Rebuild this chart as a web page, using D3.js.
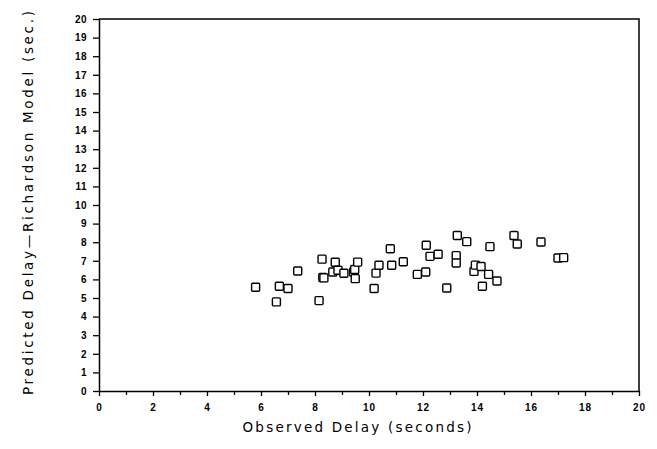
<html>
<head>
<title>Observed vs Predicted Delay</title>
<script type="text/javascript" src="https://cdnjs.cloudflare.com/ajax/libs/d3/7.8.5/d3.min.js"></script>
<style type="text/css">
    body{ margin:0; background:#fff; }
    svg{ display:block; }
    .tick text{ font-family:"Liberation Sans",Arial,sans-serif; font-weight:bold; font-size:10px; fill:#000; }
    .title{ font-family:"DejaVu Sans",sans-serif; font-size:13.5px; fill:#000; }
</style>
<script type="text/javascript">
// observed delay (s) vs delay predicted by the Richardson model (s)
var observed  = [5.80,6.57,6.68,7.00,7.36,8.15,8.26,8.29,8.33,8.66,8.75,8.85,9.07,9.43,9.47,9.49,9.58,
                 10.19,10.26,10.37,10.79,10.84,11.27,11.79,12.10,12.12,12.26,12.56,12.88,13.23,13.23,13.27,
                 13.62,13.89,13.94,14.15,14.20,14.43,14.48,14.74,15.37,15.49,16.37,17.00,17.21];
var predicted = [5.58,4.79,5.63,5.51,6.45,4.86,7.09,6.10,6.08,6.40,6.92,6.49,6.33,6.40,6.53,6.04,6.93,
                 5.51,6.34,6.76,7.65,6.76,6.95,6.27,6.40,7.84,7.24,7.35,5.54,7.28,6.88,8.36,
                 8.03,6.43,6.77,6.69,5.63,6.27,7.76,5.91,8.36,7.90,8.01,7.15,7.17];
var xTickLabels = [0,2,4,6,8,10,12,14,16,18,20];
var yTickLabels = [0,1,2,3,4,5,6,7,8,9,10,11,12,13,14,15,16,17,18,19,20];
var xMinorTicks = [1,3,5,7,9,11,13,15,17,19];

window.onload = function(){
    var width = 657, height = 449;
    var left = 99, right = 639, top = 19, bottom = 391;

    var svg = d3.select("body").append("svg").attr("width", width).attr("height", height);

    var x = d3.scaleLinear().domain([0,20]).range([left,right]);
    var y = d3.scaleLinear().domain([0,20]).range([bottom,top]);

    // frame
    svg.append("path")
        .attr("d", "M"+left+","+top+"H"+right+"V"+bottom)
        .attr("fill","none").attr("stroke","#000").attr("stroke-width",1.5);

    var xAxis = svg.append("g").attr("transform","translate(0,"+bottom+")")
        .call(d3.axisBottom(x).tickValues(xTickLabels).tickSize(5).tickPadding(8).tickSizeOuter(0));
    svg.append("g").attr("transform","translate(0,"+bottom+")")
        .call(d3.axisBottom(x).tickValues(xMinorTicks).tickSize(4).tickFormat("").tickSizeOuter(0))
        .select(".domain").remove();
    var yAxis = svg.append("g").attr("transform","translate("+left+",0)")
        .call(d3.axisLeft(y).tickValues(yTickLabels).tickSize(6).tickPadding(6).tickSizeOuter(0));

    svg.selectAll(".domain").attr("stroke-width",1.5);
    svg.selectAll(".tick line").attr("stroke-width",1.3);
    xAxis.selectAll(".tick text").attr("letter-spacing","1px");
    yAxis.selectAll(".tick text").attr("letter-spacing","0.5px");

    // points
    var s = 8;
    svg.append("g").selectAll("rect")
        .data(observed.map(function(d,i){ return [d, predicted[i]]; }))
        .enter().append("rect")
        .attr("x", function(d){ return x(d[0]) - s/2; })
        .attr("y", function(d){ return y(d[1]) - s/2; })
        .attr("width", s).attr("height", s).attr("rx", 1)
        .attr("fill","#fff").attr("stroke","#000").attr("stroke-width",1.4);

    svg.append("text").attr("class","title")
        .attr("x", 357).attr("y", 432)
        .attr("text-anchor","middle")
        .attr("textLength", 229).attr("lengthAdjust","spacing")
        .text("Observed Delay (seconds)");

    svg.append("text").attr("class","title")
        .attr("transform","translate(33,203) rotate(-90)")
        .attr("text-anchor","middle")
        .attr("textLength", 384).attr("lengthAdjust","spacing")
        .text("Predicted Delay\u2014Richardson Model (sec.)");
};
</script>
</head>
<body>
</body>
</html>
